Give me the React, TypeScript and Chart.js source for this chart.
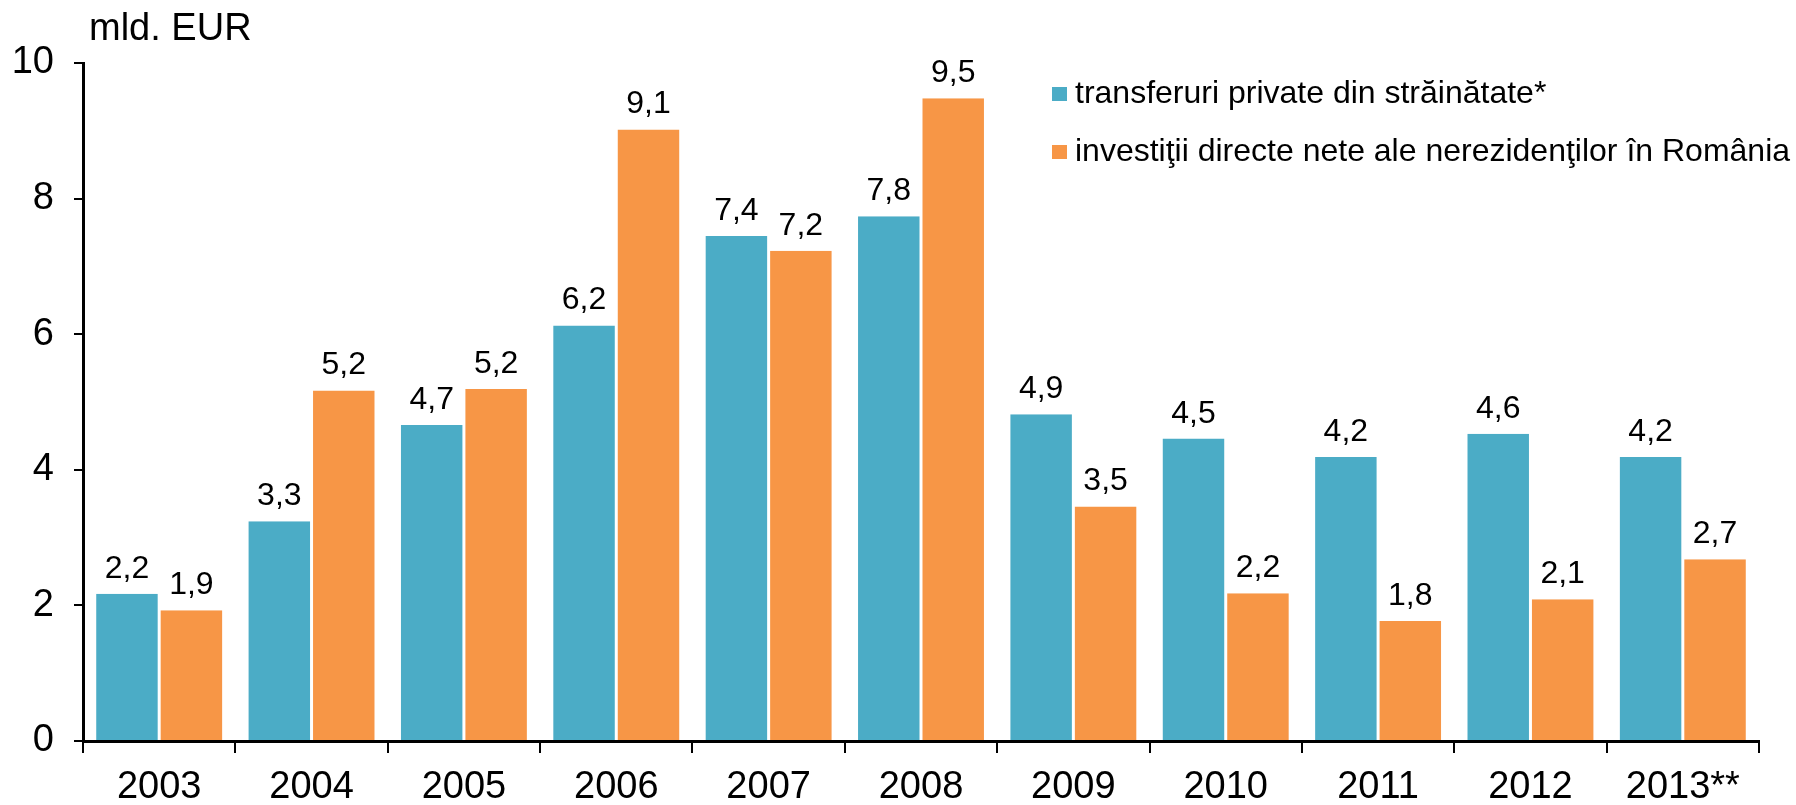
import React, { useEffect, useRef } from "react";
import { Chart, registerables } from "chart.js";

Chart.register(...registerables);

const years = ["2003", "2004", "2005", "2006", "2007", "2008", "2009", "2010", "2011", "2012", "2013**"];
const remittances = [2.17, 3.24, 4.66, 6.13, 7.45, 7.74, 4.82, 4.46, 4.19, 4.53, 4.19];
const fdi = [1.93, 5.17, 5.19, 9.02, 7.23, 9.48, 3.46, 2.18, 1.77, 2.09, 2.68];
const remittanceLabels = ["2,2", "3,3", "4,7", "6,2", "7,4", "7,8", "4,9", "4,5", "4,2", "4,6", "4,2"];
const fdiLabels = ["1,9", "5,2", "5,2", "9,1", "7,2", "9,5", "3,5", "2,2", "1,8", "2,1", "2,7"];
const seriesNames = ["transferuri private din străinătate*", "investiţii directe nete ale nerezidenţilor în România"];
const yTicks = [0, 2, 4, 6, 8, 10];
const unitLabel = "mld. EUR";

const BLUE = "#4BACC6";
const ORANGE = "#F79646";
const FONT = "'Liberation Sans', Arial, sans-serif";

export default function App() {
  const ref = useRef<HTMLCanvasElement>(null);

  useEffect(() => {
    document.body.style.margin = "0";
    const canvas = ref.current;
    if (!canvas) return;

    const valueLabels = [remittanceLabels, fdiLabels];
    const colors = [BLUE, ORANGE];

    const labelsPlugin = {
      id: "valueLabels",
      afterDatasetsDraw(chart: any) {
        const ctx = chart.ctx;
        ctx.save();
        ctx.font = `32px ${FONT}`;
        ctx.fillStyle = "#000";
        ctx.textAlign = "center";
        ctx.textBaseline = "alphabetic";
        chart.data.datasets.forEach((_: any, di: number) => {
          const meta = chart.getDatasetMeta(di);
          meta.data.forEach((bar: any, i: number) => {
            ctx.fillText(valueLabels[di][i], bar.x, bar.y - 16);
          });
        });
        ctx.restore();
      },
    };

    const decorPlugin = {
      id: "decor",
      afterDraw(chart: any) {
        const ctx = chart.ctx;
        ctx.save();
        ctx.fillStyle = "#000";
        ctx.font = `38px ${FONT}`;
        ctx.textAlign = "left";
        ctx.textBaseline = "alphabetic";
        ctx.fillText(unitLabel, 89, 40);
        const rows = [103, 161];
        ctx.font = `32px ${FONT}`;
        seriesNames.forEach((name, i) => {
          ctx.fillStyle = colors[i];
          ctx.fillRect(1052, rows[i] - 16, 15, 14);
          ctx.fillStyle = "#000";
          ctx.fillText(name, 1075, rows[i]);
        });
        ctx.restore();
      },
    };

    const chart = new Chart(canvas, {
      type: "bar",
      data: {
        labels: years,
        datasets: [
          {
            label: seriesNames[0],
            data: remittances,
            backgroundColor: BLUE,
            borderColor: "#ffffff",
            borderWidth: { left: 1.5, right: 1.5, top: 0, bottom: 0 },
            borderSkipped: false,
            categoryPercentage: 0.846,
            barPercentage: 1,
          },
          {
            label: seriesNames[1],
            data: fdi,
            backgroundColor: ORANGE,
            borderColor: "#ffffff",
            borderWidth: { left: 1.5, right: 1.5, top: 0, bottom: 0 },
            borderSkipped: false,
            categoryPercentage: 0.846,
            barPercentage: 1,
          },
        ],
      },
      options: {
        responsive: false,
        animation: false,
        layout: { padding: { top: 63, right: 37, left: 0, bottom: 0 } },
        plugins: {
          legend: { display: false },
          tooltip: { enabled: false },
          title: { display: false },
        },
        scales: {
          x: {
            type: "category",
            offset: true,
            grid: {
              display: true,
              offset: true,
              drawOnChartArea: false,
              drawTicks: true,
              tickLength: 12,
              color: "#000",
              lineWidth: 2,
            },
            border: { display: true, color: "#000", width: 3 },
            ticks: {
              color: "#000",
              font: { family: FONT, size: 38 },
              padding: 12,
              maxRotation: 0,
              autoSkip: false,
            },
            afterFit(scale: any) {
              scale.height = 64;
            },
          },
          y: {
            min: 0,
            max: 10,
            afterBuildTicks(scale: any) {
              scale.ticks = yTicks.map((v) => ({ value: v }));
            },
            grid: {
              display: true,
              drawOnChartArea: false,
              drawTicks: true,
              tickLength: 9,
              color: "#000",
              lineWidth: 2,
            },
            border: { display: true, color: "#000", width: 3 },
            ticks: {
              color: "#000",
              font: { family: FONT, size: 38 },
              padding: 20,
            },
            afterFit(scale: any) {
              scale.width = 83;
            },
          },
        },
      },
      plugins: [labelsPlugin, decorPlugin],
    });

    return () => chart.destroy();
  }, []);

  return (
    <div style={{ width: 1796, height: 805 }}>
      <canvas ref={ref} width={1796} height={805} style={{ display: "block" }} />
    </div>
  );
}
